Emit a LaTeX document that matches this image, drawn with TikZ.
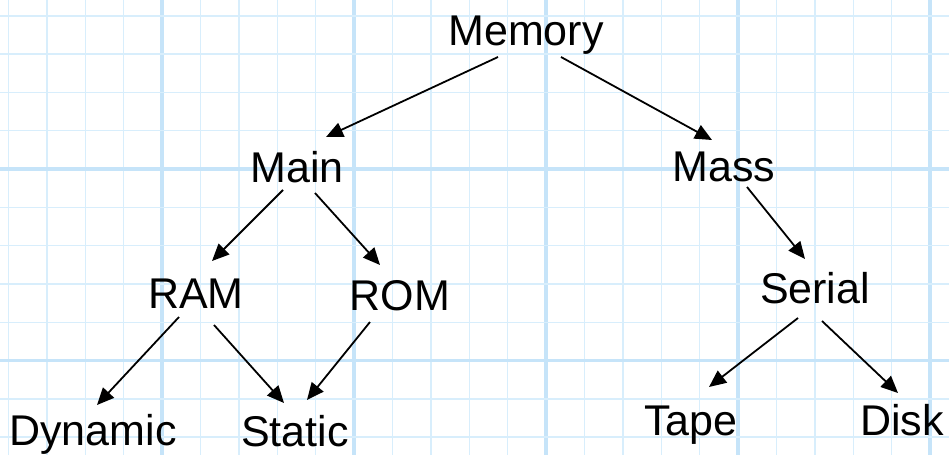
\documentclass[tikz,border=0pt]{standalone}
\usepackage{fontspec}
\setmainfont{Liberation Sans}
\usetikzlibrary{arrows.meta}
\definecolor{gridthin}{HTML}{D8EEFC}
\definecolor{gridthick}{HTML}{C6E4F9}
\begin{document}
\begin{tikzpicture}[x=1pt,y=-1pt,
  lbl/.style={anchor=base,inner sep=0pt,font=\fontsize{43}{50}\selectfont},
  conn/.style={line width=1.8pt,-{Triangle[length=17pt,width=15pt]}}]
\useasboundingbox (0,0) rectangle (949,455);
\fill[white] (0,0) rectangle (949,455);
% grid
\foreach \k in {0,...,24}{
  \pgfmathsetmacro{\xx}{8.4+38.4*\k}
  \pgfmathtruncatemacro{\m}{mod(\k,5)}
  \ifnum\m=4
    \draw[gridthick,line width=3.6pt] (\xx,0) -- (\xx,455);
  \else
    \draw[gridthin,line width=1.4pt] (\xx,0) -- (\xx,455);
  \fi
}
\foreach \k in {0,...,11}{
  \pgfmathsetmacro{\yy}{15.8+38.3*\k}
  \pgfmathtruncatemacro{\m}{mod(\k,5)}
  \ifnum\m=4
    \draw[gridthick,line width=3.6pt] (0,\yy) -- (949,\yy);
  \else
    \draw[gridthin,line width=1.4pt] (0,\yy) -- (949,\yy);
  \fi
}
% nodes
\node[lbl] (memory) at (526,45) {Memory};
\node[lbl] (main) at (297,182) {Main};
\node[lbl] (mass) at (724,181) {Mass};
\node[lbl] (ram) at (196,308) {RAM};
\node[lbl] (rom) at (400,310) {ROM};
\node[lbl] (serial) at (815,303) {Serial};
\node[lbl] (dynamic) at (93,445) {Dynamic};
\node[lbl] (static) at (295,446) {Static};
\node[lbl] (tape) at (691,435) {Tape};
\node[lbl] (disk) at (902,435) {Disk};
% connectors
\draw[conn] ([shift={(-28,12)}]memory.base) -- ([shift={(29,-45)}]main.base);
\draw[conn] ([shift={(35,12)}]memory.base) -- ([shift={(-12,-41)}]mass.base);
\draw[conn] ([shift={(-14,8)}]main.base) -- ([shift={(16,-47)}]ram.base);
\draw[conn] ([shift={(18,11)}]main.base) -- ([shift={(-20,-45)}]rom.base);
\draw[conn] ([shift={(23,6)}]mass.base) -- ([shift={(-10,-44)}]serial.base);
\draw[conn] ([shift={(-17,9)}]ram.base) -- ([shift={(4,-40)}]dynamic.base);
\draw[conn] ([shift={(18,17)}]ram.base) -- ([shift={(-11,-43)}]static.base);
\draw[conn] ([shift={(-30,12)}]rom.base) -- ([shift={(12,-46)}]static.base);
\draw[conn] ([shift={(-17,15)}]serial.base) -- ([shift={(18,-48)}]tape.base);
\draw[conn] ([shift={(7,18)}]serial.base) -- ([shift={(-4,-42)}]disk.base);
\end{tikzpicture}
\end{document}
